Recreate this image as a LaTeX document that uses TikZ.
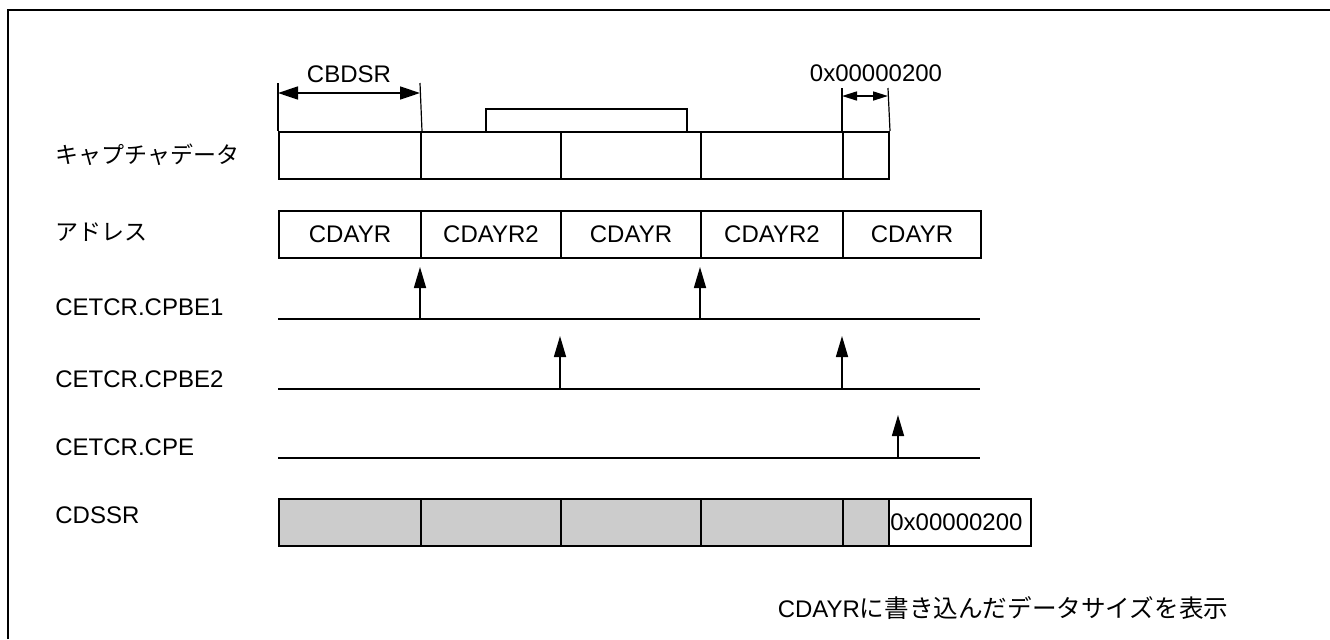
\documentclass[tikz,border=0pt]{standalone}
\usepackage{fontspec}
\setmainfont{Liberation Sans}
\newfontfamily\jp{Noto Sans CJK JP}
\usetikzlibrary{arrows.meta}
\definecolor{cellgrey}{HTML}{CCCCCC}
\tikzset{
  every node/.style={font=\fontsize{12}{14}\selectfont},
  cell/.style={draw, line width=1pt, inner sep=0pt, anchor=north west},
  greycell/.style={cell, fill=cellgrey},
  lbl/.style={anchor=west, inner sep=0pt},
  tline/.style={line width=1pt},
  trig/.style={line width=0.8pt, -{Triangle[length=10.5pt,width=6pt]}},
  ext/.style={line width=0.6pt},
  dimbig/.style={line width=0.8pt, {Triangle[length=10pt,width=6.5pt]}-{Triangle[length=10pt,width=6.5pt]}},
  dimsmall/.style={line width=0.8pt, {Triangle[length=7.5pt,width=4.5pt]}-{Triangle[length=7.5pt,width=4.5pt]}},
  frame/.style={line width=1.2pt}
}
% \mycell{style}{name}{x1}{x2}{y1}{y2}{text}
\newcommand{\mycell}[7]{%
  \node[#1, minimum width={(#4-#3)*0.5pt}, minimum height={(#6-#5)*0.5pt}] (#2) at (#3,#5) {};
  \node[inner sep=0pt] (#2t) at (#2.center) {#7};}
\begin{document}
\begin{tikzpicture}[x=0.5pt, y=-0.5pt]
\useasboundingbox (0,0) rectangle (1330,639);
% frame (top and left edges)
\coordinate (fa) at (8,639);
\coordinate (fb) at (8,10);
\coordinate (fc) at (1330,10);
\draw[frame] (fa) -- (fb) -- (fc);

% left labels
\node[lbl] (l1) at (55,155) {\jp\fontsize{11.5}{14}\selectfont キャプチャデータ};
\node[lbl] (l2) at (55,232) {\jp\fontsize{11.5}{14}\selectfont アドレス};
\node[lbl] (l3) at (55,307) {CETCR.CPBE1};
\node[lbl] (l4) at (55,379) {CETCR.CPBE2};
\node[lbl] (l5) at (55,447) {CETCR.CPE};
\node[lbl] (l6) at (55,515) {CDSSR};

% raised box
\mycell{cell}{raised}{485}{686}{108}{131}{}
% capture data row
\mycell{cell}{c1}{278}{420}{131}{178}{}
\mycell{cell}{c2}{420}{560}{131}{178}{}
\mycell{cell}{c3}{560}{700}{131}{178}{}
\mycell{cell}{c4}{700}{842}{131}{178}{}
\mycell{cell}{c5}{842}{888}{131}{178}{}

% CBDSR dimension
\coordinate (d1a) at (278,83);
\coordinate (d1b) at (420,83);
\draw[ext] (d1a) -- (c1.north west);
\draw[ext] (d1b) -- (c1.north east);
\coordinate (d1l) at (278,93);
\coordinate (d1r) at (420,93);
\draw[dimbig] (d1l) -- (d1r);
\node (cbdsr) at (349,74) {CBDSR};

% 0x00000200 dimension
\coordinate (d2a) at (842,88);
\coordinate (d2b) at (888,88);
\draw[ext] (d2a) -- (c5.north west);
\draw[ext] (d2b) -- (c5.north east);
\coordinate (d2l) at (842,96);
\coordinate (d2r) at (888,96);
\draw[dimsmall] (d2l) -- (d2r);
\node (sz) at (876,73) {0x00000200};

% address row
\mycell{cell}{a1}{278}{420}{210}{257}{CDAYR}
\mycell{cell}{a2}{420}{560}{210}{257}{CDAYR2}
\mycell{cell}{a3}{560}{700}{210}{257}{CDAYR}
\mycell{cell}{a4}{700}{842}{210}{257}{CDAYR2}
\mycell{cell}{a5}{842}{980}{210}{257}{CDAYR}

% CPBE1
\coordinate (p1s) at (278,319);
\coordinate (p1e) at (980,319);
\draw[tline] (p1s) -- (p1e);
\coordinate (p1a) at (420,319);
\coordinate (p1at) at (420,267);
\coordinate (p1b) at (700,319);
\coordinate (p1bt) at (700,267);
\draw[trig] (p1a) -- (p1at);
\draw[trig] (p1b) -- (p1bt);

% CPBE2
\coordinate (p2s) at (278,389);
\coordinate (p2e) at (980,389);
\draw[tline] (p2s) -- (p2e);
\coordinate (p2a) at (560,389);
\coordinate (p2at) at (560,336);
\coordinate (p2b) at (842,389);
\coordinate (p2bt) at (842,336);
\draw[trig] (p2a) -- (p2at);
\draw[trig] (p2b) -- (p2bt);

% CPE
\coordinate (p3s) at (278,458);
\coordinate (p3e) at (980,458);
\draw[tline] (p3s) -- (p3e);
\coordinate (p3a) at (898,458);
\coordinate (p3at) at (898,415);
\draw[trig] (p3a) -- (p3at);

% CDSSR row
\mycell{greycell}{s1}{278}{420}{498}{545}{}
\mycell{greycell}{s2}{420}{560}{498}{545}{}
\mycell{greycell}{s3}{560}{700}{498}{545}{}
\mycell{greycell}{s4}{700}{842}{498}{545}{}
\mycell{greycell}{s5}{842}{888}{498}{545}{}
\mycell{cell}{s6}{888}{1030}{498}{545}{}
\node[lbl] (s6t) at (890,522) {0x00000200};

% note
\node (note) at (1003,608) {CDAYR{\jp\fontsize{12.3}{14}\selectfont に書き込んだデータサイズを表示}};
\end{tikzpicture}
\end{document}
